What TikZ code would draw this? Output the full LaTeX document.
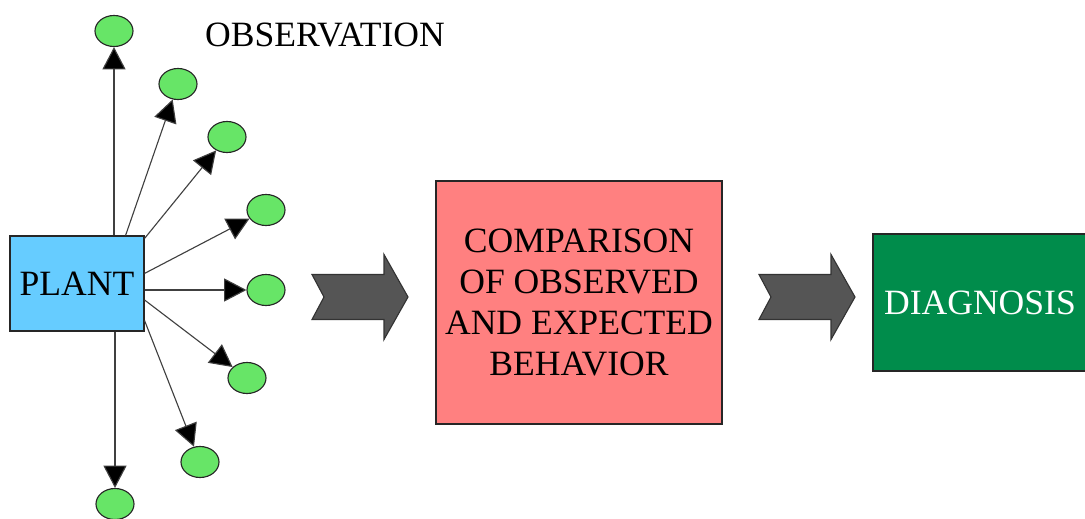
\documentclass[tikz,border=0pt]{standalone}
\usepackage{fontspec}
\setmainfont{Liberation Serif}
\usetikzlibrary{calc,shapes.geometric,arrows.meta}

\definecolor{plantblue}{RGB}{102,204,255}
\definecolor{comparered}{RGB}{255,128,128}
\definecolor{diaggreen}{RGB}{0,140,75}
\definecolor{chevgray}{RGB}{85,85,85}

\tikzset{
 bigfont/.style={font=\fontsize{25.3}{29}\selectfont},
 obs/.style={ellipse,draw=black!85,line width=0.8pt,fill=green!55!white!90!black,minimum width=0.95cm,minimum height=0.775cm,inner sep=0pt},
 obsarrow/.style={draw=black!75,line width=0.8pt,-{Triangle[length=0.56cm,width=0.58cm,fill=black]}},
 chevron/.pic={\draw[fill=chevgray,draw=black!80,line width=0.8pt] (0,22.5) -- (72,22.5) -- (72,42.5) -- (96,0) -- (72,-42.5) -- (72,-22.5) -- (0,-22.5) -- (12,0) -- cycle;}
}

\begin{document}
\begin{tikzpicture}[x=0.025cm,y=-0.025cm]
\useasboundingbox (0,0) rectangle (1085,519);

\node[draw=black!85,line width=0.8pt,fill=plantblue,minimum width=3.35cm,minimum height=2.375cm,bigfont] (plant) at (77,283.5) [] {PLANT};

\node[obs] (o1) at (114,31) [] {};
\node[obs] (o2) at (178,84) [] {};
\node[obs] (o3) at (227,137) [] {};
\node[obs] (o4) at (266,210) [] {};
\node[obs] (o5) at (266,290) [] {};
\node[obs] (o6) at (247,378) [] {};
\node[obs] (o7) at (200,462) [] {};
\node[obs] (o8) at (115,504) [] {};

\node[bigfont,anchor=base] (obslabel) at (325,47) [] {OBSERVATION};

% observation arrows
\draw[obsarrow] (plant.north -| o1) -- (o1);
\draw[obsarrow] ($(plant.north east)+(-19,0)$) -- (o2);
\draw[obsarrow] ($(plant.north east)+(0,3)$) -- (o3);
\draw[obsarrow] ($(plant.north east)+(0,38)$) -- (o4);
\draw[obsarrow] (plant.east |- o5) -- (o5);
\draw[obsarrow] ($(plant.east)+(0,16.5)$) -- (o6);
\draw[obsarrow] ($(plant.south east)+(0,-11)$) -- (o7);
\draw[obsarrow] (plant.south -| o8) -- (o8);

\node[draw=black!85,line width=0.8pt,fill=comparered,minimum width=7.15cm,minimum height=6.075cm,align=center,bigfont] (compare) at (579,302.5) [] {COMPARISON\\OF OBSERVED\\AND EXPECTED\\BEHAVIOR};

\node[draw=black!85,line width=0.8pt,fill=diaggreen,minimum width=5.35cm,minimum height=3.425cm,text=white,bigfont] (diag) at (980,302.5) [] {DIAGNOSIS};

\pic at (312,297) {chevron};
\pic at (759,297) {chevron};

\end{tikzpicture}
\end{document}
